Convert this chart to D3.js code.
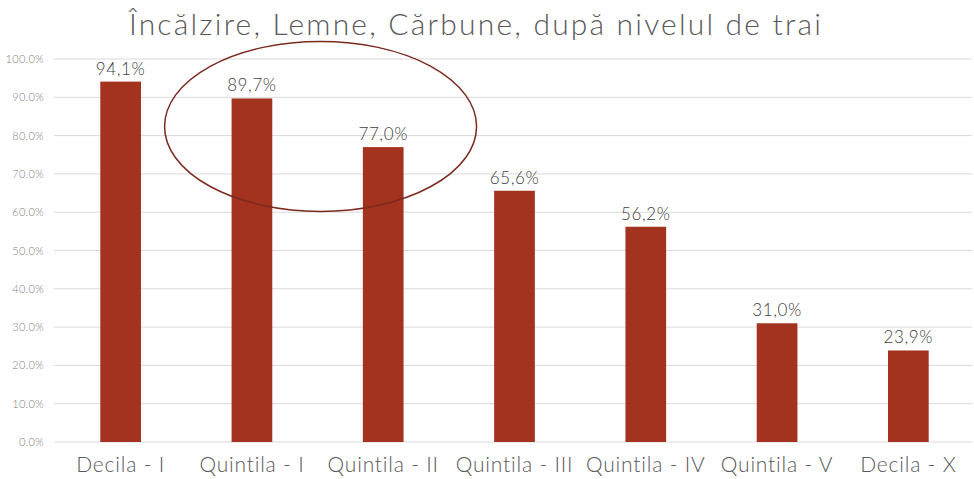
<!DOCTYPE html>
<html><head><meta charset="utf-8">
<script src="https://cdn.jsdelivr.net/npm/d3@7"></script>
<style>body{margin:0;background:#fff}svg{display:block}</style>
</head><body>
<script>
const categories = ["Decila - I","Quintila - I","Quintila - II","Quintila - III","Quintila - IV","Quintila - V","Decila - X"];
const values = [94.1, 89.7, 77.0, 65.6, 56.2, 31.0, 23.9];
const yTicks = [0,10,20,30,40,50,60,70,80,90,100];
const title = "Încălzire, Lemne, Cărbune, după nivelul de trai";

const W = 974, H = 479;
const m = {left:55, right:0, top:59, bottom:37};
const svg = d3.select("body").append("svg").attr("width",W).attr("height",H);
const font = "Lato, 'Open Sans', sans-serif";

const x = d3.scaleBand().domain(categories).range([m.left, W-m.right]).paddingInner(0.69).paddingOuter(0.345);
const y = d3.scaleLinear().domain([0,100]).range([H-m.bottom, m.top]);

// gridlines
svg.append("g").selectAll("line").data(yTicks).join("line")
  .attr("x1", m.left-1).attr("x2", W-2)
  .attr("y1", d=>y(d)).attr("y2", d=>y(d))
  .attr("stroke", "#d9d9d9").attr("stroke-width", 1);

// y axis labels
const yAxis = d3.axisLeft(y).tickValues(yTicks).tickSize(0).tickPadding(11)
  .tickFormat(d => d.toFixed(1) + "%");
const ga = svg.append("g").attr("transform", `translate(${m.left},0)`).call(yAxis);
ga.select(".domain").remove();
ga.selectAll("text").attr("font-family", font).attr("font-size", 11).attr("font-weight", 300)
  .attr("letter-spacing", 0.3).attr("fill", "#7f7f7f");

// bars
svg.append("g").selectAll("rect").data(values).join("rect")
  .attr("x", (d,i)=>x(categories[i])).attr("width", x.bandwidth())
  .attr("y", d=>y(d)).attr("height", d=>y(0)-y(d))
  .attr("fill", "#A3331F");

// value labels
svg.append("g").selectAll("text").data(values).join("text")
  .attr("x", (d,i)=>x(categories[i]) + x.bandwidth()/2)
  .attr("y", d=>y(d)-7)
  .attr("text-anchor","middle").attr("font-family", font).attr("font-size", 17)
  .attr("font-weight", 300).attr("letter-spacing", 0.6)
  .attr("fill","#404040")
  .text(d => d.toFixed(1).replace(".", ",") + "%");

// x axis labels
const xAxis = d3.axisBottom(x).tickSize(0).tickPadding(15);
const gx = svg.append("g").attr("transform", `translate(0,${y(0)})`).call(xAxis);
gx.select(".domain").remove();
gx.selectAll("text").attr("font-family", font).attr("font-size", 21).attr("font-weight", 300)
  .attr("letter-spacing", 0.8).attr("fill", "#595959");

// title
svg.append("text").attr("x", 476).attr("y", 35).attr("text-anchor","middle")
  .attr("font-family", font).attr("font-size", 30).attr("font-weight", 300)
  .attr("letter-spacing", 2.2).attr("fill","#595959").text(title);

// highlight ellipse around Quintila - I and Quintila - II
const cx = (x(categories[1]) + x(categories[2]) + x.bandwidth())/2 + 3;
svg.append("ellipse").attr("cx", cx).attr("cy", y(82.4)).attr("rx", 156).attr("ry", 85)
  .attr("fill","none").attr("stroke","#7B2A20").attr("stroke-width",1.5);
</script>
</body></html>
